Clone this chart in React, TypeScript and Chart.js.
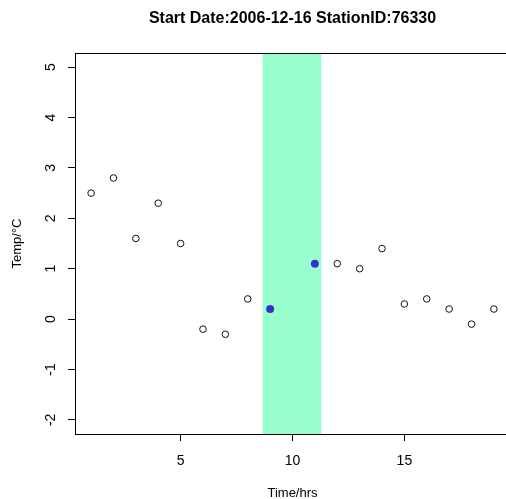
import React, { useEffect, useRef } from "react";
import { Chart, registerables } from "chart.js";

Chart.register(...registerables);

const TITLE = "Start Date:2006-12-16 StationID:76330";
const X_LABEL = "Time/hrs";
const Y_LABEL = "Temp/°C";

const hours = [1, 2, 3, 4, 5, 6, 7, 8, 12, 13, 14, 15, 16, 17, 18, 19];
const temps = [2.5, 2.8, 1.6, 2.3, 1.5, -0.2, -0.3, 0.4, 1.1, 1.0, 1.4, 0.3, 0.4, 0.2, -0.1, 0.2];

const highlightHours = [9, 11];
const highlightTemps = [0.2, 1.1];

const bandRange = [8.66, 11.29];

const xTicks = [5, 10, 15];
const yTicks = [-2, -1, 0, 1, 2, 3, 4, 5];
const xRange = [0.28, 19.72];
const yRange = [-2.28, 5.28];

const FONT = "'Liberation Sans', Arial, Helvetica, sans-serif";

const bandPlugin = {
  id: "band",
  beforeDatasetsDraw(chart: any) {
    const { ctx, chartArea, scales } = chart;
    const x0 = scales.x.getPixelForValue(bandRange[0]);
    const x1 = scales.x.getPixelForValue(bandRange[1]);
    ctx.save();
    ctx.fillStyle = "#99FFCC";
    ctx.fillRect(x0, chartArea.top + 1, x1 - x0, chartArea.bottom - chartArea.top - 1);
    ctx.restore();
  },
};

const framePlugin = {
  id: "frame",
  afterDatasetsDraw(chart: any) {
    const { ctx, chartArea } = chart;
    ctx.save();
    ctx.strokeStyle = "#000";
    ctx.lineWidth = 1;
    ctx.strokeRect(
      Math.round(chartArea.left) + 0.5,
      Math.round(chartArea.top) + 0.5,
      Math.round(chartArea.right - chartArea.left),
      Math.round(chartArea.bottom - chartArea.top)
    );
    ctx.restore();
  },
};

export default function App() {
  const ref = useRef<HTMLCanvasElement | null>(null);

  useEffect(() => {
    if (!ref.current) return;
    const chart = new Chart(ref.current, {
      type: "scatter",
      data: {
        datasets: [
          {
            data: hours.map((h, i) => ({ x: h, y: temps[i] })),
            pointRadius: 3.3,
            pointBorderWidth: 1,
            pointBorderColor: "#111",
            pointBackgroundColor: "rgba(0,0,0,0)",
            showLine: false,
          },
          {
            data: highlightHours.map((h, i) => ({ x: h, y: highlightTemps[i] })),
            pointRadius: 4,
            pointBorderWidth: 0,
            pointBorderColor: "#3333CC",
            pointBackgroundColor: "#3333CC",
            showLine: false,
          },
        ],
      },
      options: {
        responsive: false,
        animation: false,
        devicePixelRatio: 1,
        layout: { padding: { left: 0, right: 10, top: 0, bottom: 0 } },
        plugins: {
          legend: { display: false },
          tooltip: { enabled: false },
          title: {
            display: true,
            text: TITLE,
            fullSize: false,
            color: "#000",
            font: { family: FONT, size: 16, weight: "bold", lineHeight: 1.2 },
            padding: { top: 9, bottom: 24.8 },
          },
        },
        scales: {
          x: {
            type: "linear",
            min: xRange[0],
            max: xRange[1],
            afterBuildTicks: (s: any) => {
              s.ticks = xTicks.map((v) => ({ value: v }));
            },
            afterFit: (s: any) => {
              s.height = 65;
            },
            ticks: {
              color: "#000",
              font: { family: FONT, size: 14 },
              padding: 12,
              maxRotation: 0,
              minRotation: 0,
            },
            grid: {
              drawOnChartArea: false,
              drawTicks: true,
              tickLength: 7,
              color: "#000",
              lineWidth: 1,
            },
            border: { display: true, color: "#000", width: 1 },
            title: {
              display: true,
              text: X_LABEL,
              color: "#000",
              font: { family: FONT, size: 13, lineHeight: 1 },
              padding: { top: 0, bottom: -1 },
            },
          },
          y: {
            type: "linear",
            min: yRange[0],
            max: yRange[1],
            afterBuildTicks: (s: any) => {
              s.ticks = yTicks.map((v) => ({ value: v }));
            },
            afterFit: (s: any) => {
              s.width = 75;
            },
            ticks: {
              color: "#000",
              font: { family: FONT, size: 14 },
              padding: 11,
              minRotation: 90,
              maxRotation: 90,
              crossAlign: "center",
            },
            grid: {
              drawOnChartArea: false,
              drawTicks: true,
              tickLength: 7,
              color: "#000",
              lineWidth: 1,
            },
            border: { display: true, color: "#000", width: 1 },
            title: {
              display: true,
              text: Y_LABEL,
              color: "#000",
              font: { family: FONT, size: 13, lineHeight: 1 },
              padding: { top: 11, bottom: 0 },
            },
          },
        },
      },
      plugins: [bandPlugin, framePlugin],
    });
    return () => chart.destroy();
  }, []);

  return (
    <div
      style={{
        position: "fixed",
        left: 0,
        top: 0,
        width: 506,
        height: 499,
        overflow: "hidden",
        background: "#fff",
      }}
    >
      <canvas ref={ref} width={520} height={499} style={{ display: "block" }} />
    </div>
  );
}
